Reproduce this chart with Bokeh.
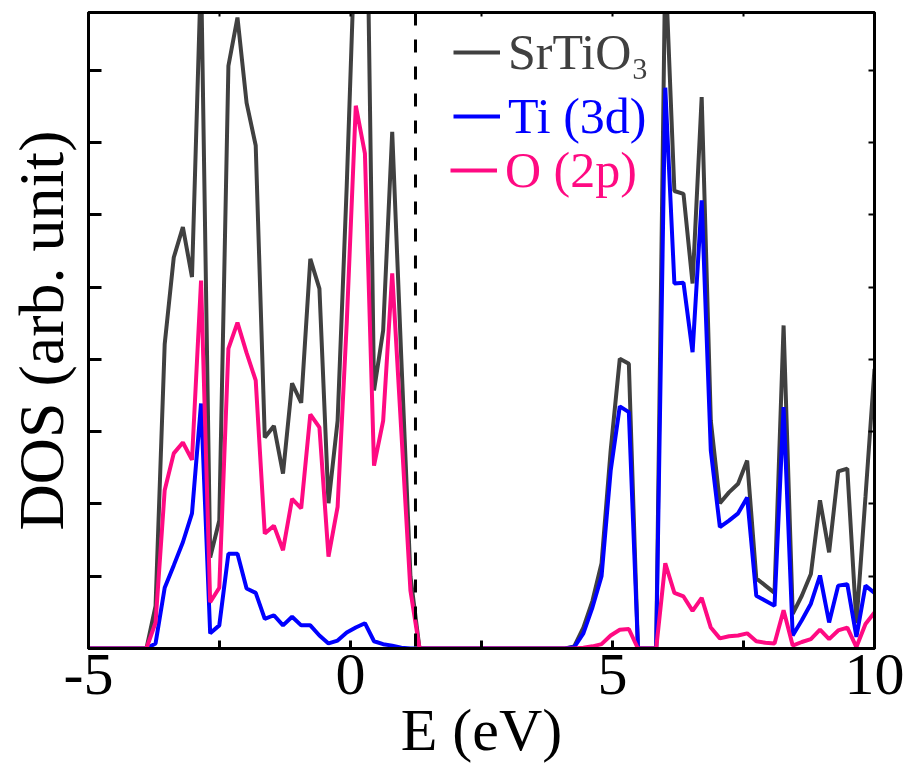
from bokeh.plotting import figure
from bokeh.models import LinearAxis, FixedTicker, Span, Legend, LegendItem, Range1d
from bokeh.embed import file_html
from bokeh.resources import INLINE

# Energy grid (eV) of the plotted points
energy = [-5.0, -3.894, -3.720, -3.546, -3.373, -3.199, -3.025, -2.852, -2.678, -2.504,
          -2.330, -2.157, -1.983, -1.809, -1.636, -1.462, -1.288, -1.115, -0.941, -0.767,
          -0.593, -0.420, -0.246, -0.072, 0.101, 0.275, 0.449, 0.623, 0.796, 0.970,
          1.144, 1.317,
          3.923, 4.097, 4.270, 4.444, 4.618, 4.791, 4.965, 5.139, 5.312, 5.486,
          5.660, 5.834, 6.007, 6.181, 6.355, 6.528, 6.702, 6.876, 7.049, 7.223,
          7.397, 7.570, 7.744, 7.918, 8.092, 8.265, 8.439, 8.613, 8.786, 8.960,
          9.134, 9.307, 9.481, 9.655, 9.828, 10.0]

dos_srtio3 = [0, 0, 0.59, 4.21, 5.41, 5.83, 5.14, 9.4, 1.26, 1.77,
              8.06, 8.73, 7.55, 6.96, 2.92, 3.08, 2.42, 3.67, 3.40, 5.39,
              4.98, 2.01, 3.15, 6.4, 10.1, 12.4, 3.57, 4.4, 7.15, 4.0,
              1.0, 0,
              0, 0, 0.03, 0.29, 0.66, 1.18, 2.74, 4.01, 3.94, 0,
              0, 0, 9.5, 6.33, 6.29, 5.05, 7.63, 3.15, 2.01, 2.16,
              2.28, 2.60, 0.97, 0.87, 0.77, 4.47, 0.48, 0.73, 1.03, 2.05,
              1.33, 2.45, 2.49, 0.35, 2.1, 3.87]

dos_ti3d = [0, 0, 0.07, 0.84, 1.15, 1.47, 1.87, 3.39, 0.21, 0.32,
            1.31, 1.31, 0.83, 0.77, 0.41, 0.46, 0.32, 0.44, 0.32, 0.32,
            0.18, 0.07, 0.11, 0.22, 0.29, 0.35, 0.10, 0.06, 0.04, 0.01,
            0, 0,
            0, 0, 0.02, 0.21, 0.57, 1.0, 2.46, 3.35, 3.27, 0,
            0, 0, 7.76, 5.05, 5.06, 4.10, 6.20, 2.74, 1.68, 1.77,
            1.87, 2.09, 0.73, 0.66, 0.59, 3.34, 0.18, 0.39, 0.62, 1.01,
            0.36, 0.87, 0.89, 0.16, 0.87, 0.77]

dos_o2p = [0, 0, 0.36, 2.19, 2.70, 2.85, 2.61, 5.09, 0.64, 0.84,
           4.15, 4.51, 4.09, 3.71, 1.59, 1.70, 1.36, 2.07, 1.94, 3.24,
           3.06, 1.27, 1.96, 4.5, 7.51, 6.85, 2.53, 3.15, 5.19, 3.0,
           0.8, 0,
           0, 0, 0, 0.01, 0.03, 0.06, 0.18, 0.26, 0.27, 0,
           0, 0, 1.18, 0.77, 0.72, 0.52, 0.70, 0.29, 0.14, 0.17,
           0.18, 0.21, 0.10, 0.08, 0.07, 0.53, 0.04, 0.09, 0.13, 0.26,
           0.13, 0.25, 0.29, 0.02, 0.34, 0.50]

dashed_line_energy = 1.24
x_major_ticks = [-5, 0, 5, 10]
x_major_labels = {-5: "-5", 0: "0", 5: "5", 10: "10"}
x_minor_ticks = [-2.5, 2.5, 7.5]
x_all_ticks = [-5, -2.5, 0, 2.5, 5, 7.5, 10]
y_ticks = [1, 2, 3, 4, 5, 6, 7, 8]
series_labels = ["SrTiO\u2083", "Ti (3d)", "O (2p)"]
series_colors = ["#404040", "#0000ff", "#ff0a82"]
x_title = "E (eV)"
y_title = "DOS (arb. unit)"

FONT = "Liberation Serif"

p = figure(width=907, height=770, x_range=Range1d(-5, 10), y_range=Range1d(0, 8.8),
           output_backend="svg", toolbar_location=None,
           min_border_left=88, min_border_right=33, min_border_top=12, min_border_bottom=122)
p.xgrid.visible = False
p.ygrid.visible = False
p.outline_line_color = "black"
p.outline_line_width = 3
p.outline_line_alpha = 1.0

xa = p.xaxis[0]
xa.ticker = FixedTicker(ticks=x_major_ticks, minor_ticks=x_minor_ticks)
xa.major_label_overrides = x_major_labels
xa.major_tick_in = 8
xa.major_tick_out = 0
xa.minor_tick_in = 8
xa.minor_tick_out = 0
xa.major_tick_line_width = 3
xa.minor_tick_line_width = 3
xa.axis_line_width = 3
xa.major_label_text_font = FONT
xa.major_label_text_font_size = "60px"
xa.major_label_text_color = "black"
xa.major_label_standoff = 6
xa.axis_label = x_title
xa.axis_label_text_font = FONT
xa.axis_label_text_font_size = "60px"
xa.axis_label_text_font_style = "normal"
xa.axis_label_text_color = "black"
xa.axis_label_standoff = 0

ya = p.yaxis[0]
ya.ticker = FixedTicker(ticks=[], minor_ticks=y_ticks)
ya.major_tick_in = 0
ya.major_tick_out = 0
ya.minor_tick_in = 13
ya.minor_tick_out = 0
ya.minor_tick_line_width = 3
ya.minor_tick_line_color = "black"
ya.axis_line_width = 3
ya.axis_label = y_title
ya.axis_label_text_font = FONT
ya.axis_label_text_font_size = "64px"
ya.axis_label_text_font_style = "normal"
ya.axis_label_text_color = "black"
ya.axis_label_standoff = 12

top_axis = LinearAxis(ticker=FixedTicker(ticks=[], minor_ticks=x_all_ticks),
                      major_tick_in=0, major_tick_out=0, minor_tick_in=4, minor_tick_out=0,
                      minor_tick_line_width=2, minor_tick_line_color="black", axis_line_width=3)
p.add_layout(top_axis, "above")
right_axis = LinearAxis(ticker=FixedTicker(ticks=[], minor_ticks=y_ticks),
                        major_tick_in=0, major_tick_out=0, minor_tick_in=6, minor_tick_out=0,
                        minor_tick_line_width=2, minor_tick_line_color="black", axis_line_width=3)
p.add_layout(right_axis, "right")

p.add_layout(Span(location=dashed_line_energy, dimension="height", line_color="black",
                  line_dash="13 14", line_width=3))

r_total = p.line(energy, dos_srtio3, color=series_colors[0], line_width=4)
r_ti = p.line(energy, dos_ti3d, color=series_colors[1], line_width=4)
r_o = p.line(energy, dos_o2p, color=series_colors[2], line_width=4)

legend_locs = [(365, 567), (365, 503), (362, 449)]
for label, rend, color, loc in zip(series_labels, [r_total, r_ti, r_o], series_colors, legend_locs):
    leg = Legend(items=[LegendItem(label=label, renderers=[rend])], location=loc,
                 padding=0, margin=0, spacing=0, border_line_alpha=0,
                 background_fill_alpha=0, glyph_width=47, glyph_height=30,
                 label_height=30, label_standoff=8, label_text_font=FONT,
                 label_text_font_size="50px", label_text_color=color)
    p.add_layout(leg)

open("out.html", "w").write(file_html(p, INLINE))
